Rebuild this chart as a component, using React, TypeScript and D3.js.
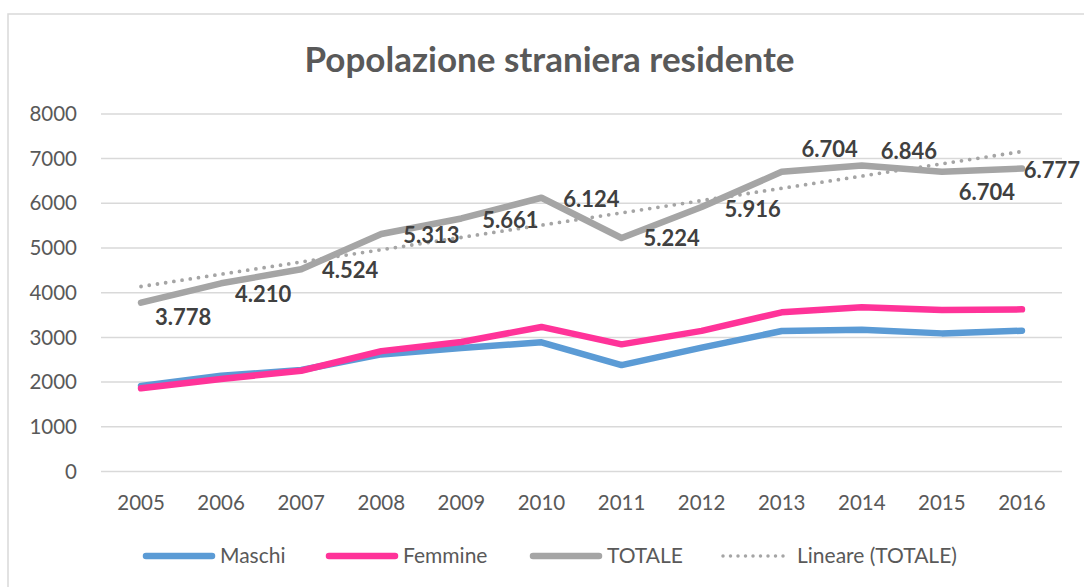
import * as d3 from "d3";

const years = ["2005", "2006", "2007", "2008", "2009", "2010", "2011", "2012", "2013", "2014", "2015", "2016"];
const maschi = [1916, 2140, 2270, 2620, 2765, 2890, 2380, 2770, 3143, 3170, 3090, 3150];
const femmine = [1862, 2070, 2254, 2693, 2896, 3234, 2844, 3146, 3561, 3676, 3614, 3627];
const totale = [3778, 4210, 4524, 5313, 5661, 6124, 5224, 5916, 6704, 6846, 6704, 6777];
const yTicks = [0, 1000, 2000, 3000, 4000, 5000, 6000, 7000, 8000];

// where each TOTALE label sits relative to its point (moved by hand in the original)
const labelOffsets: [number, number][] = [
  [42, 14], [42, 11], [49, 1], [50, 1.5], [49, 1.5], [50, 1],
  [50, 0], [51, 2], [48, -23], [47, -14], [45, 20], [30, 1.5],
];

const W = 1084;
const H = 587;
const FONT = "Lato, 'Open Sans', sans-serif";

const series = [
  { name: "Maschi", values: maschi, color: "#5b9bd5" },
  { name: "Femmine", values: femmine, color: "#ff3399" },
  { name: "TOTALE", values: totale, color: "#a5a5a5" },
];

// Excel style linear trend of TOTALE
function linearFit(vals: number[]) {
  const xs = vals.map((_, i) => i);
  const mx = d3.mean(xs)!;
  const my = d3.mean(vals)!;
  const sxy = d3.sum(xs, (x, i) => (x - mx) * (vals[i] - my));
  const sxx = d3.sum(xs, (x) => (x - mx) * (x - mx));
  const slope = sxy / sxx;
  return vals.map((_, i) => my + slope * (i - mx));
}

export default function App() {
  const x = d3.scalePoint<string>().domain(years).range([101, 1062]).padding(0.5);
  const y = d3.scaleLinear().domain([0, 8000]).range([471.5, 113.9]);

  const line = d3
    .line<number>()
    .x((_, i) => x(years[i])!)
    .y((d) => y(d));

  const trend = linearFit(totale);

  const legend = [
    { name: "Maschi", color: "#5b9bd5", x0: 143, dotted: false },
    { name: "Femmine", color: "#ff3399", x0: 326, dotted: false },
    { name: "TOTALE", color: "#a5a5a5", x0: 530, dotted: false },
    { name: "Lineare (TOTALE)", color: "#a5a5a5", x0: 720, dotted: true },
  ];

  return (
    <svg
      width={W}
      height={H}
      style={{ position: "absolute", left: 0, top: 0, background: "#fff" }}
      fontFamily={FONT}
    >
      <rect x={8} y={14} width={W + 20} height={H + 20} fill="#fff" stroke="#d9d9d9" strokeWidth={1.5} />

      <text x={549.5} y={72} textAnchor="middle" fontSize={35} fontWeight="bold" fill="#595959">
        Popolazione straniera residente
      </text>

      {/* grid + y axis */}
      {yTicks.map((t) => (
        <g key={t}>
          <line x1={101} x2={1062} y1={y(t)} y2={y(t)} stroke="#d9d9d9" strokeWidth={1.5} />
          <text x={77} y={y(t)} dy="0.35em" textAnchor="end" fontSize={20.5} fill="#595959">
            {t}
          </text>
        </g>
      ))}

      {/* x axis labels */}
      {years.map((yr) => (
        <text key={yr} x={x(yr)} y={510} textAnchor="middle" fontSize={20.5} fill="#595959">
          {yr}
        </text>
      ))}

      {series.map((s) => (
        <path
          key={s.name}
          d={line(s.values)!}
          fill="none"
          stroke={s.color}
          strokeWidth={6.5}
          strokeLinecap="round"
          strokeLinejoin="round"
        />
      ))}

      <path
        d={line(trend)!}
        fill="none"
        stroke="#a5a5a5"
        strokeWidth={3.8}
        strokeLinecap="round"
        strokeDasharray="0 8.3"
      />

      {/* data labels, italian thousands separator */}
      {totale.map((v, i) => (
        <text
          key={i}
          x={x(years[i])! + labelOffsets[i][0]}
          y={y(v) + labelOffsets[i][1]}
          dy="0.36em"
          textAnchor="middle"
          fontSize={22}
          fontWeight="bold"
          fill="#404040"
        >
          {d3.format(",")(v).replace(",", ".")}
        </text>
      ))}

      {/* legend */}
      {legend.map((l) => (
        <g key={l.name}>
          <line
            x1={l.x0 + 3}
            x2={l.x0 + 69}
            y1={556}
            y2={556}
            stroke={l.color}
            strokeWidth={l.dotted ? 3.5 : 6.5}
            strokeLinecap="round"
            strokeDasharray={l.dotted ? "0 7.5" : undefined}
          />
          <text x={l.x0 + 77} y={556} dy="0.35em" fontSize={21} fill="#595959">
            {l.name}
          </text>
        </g>
      ))}
    </svg>
  );
}
